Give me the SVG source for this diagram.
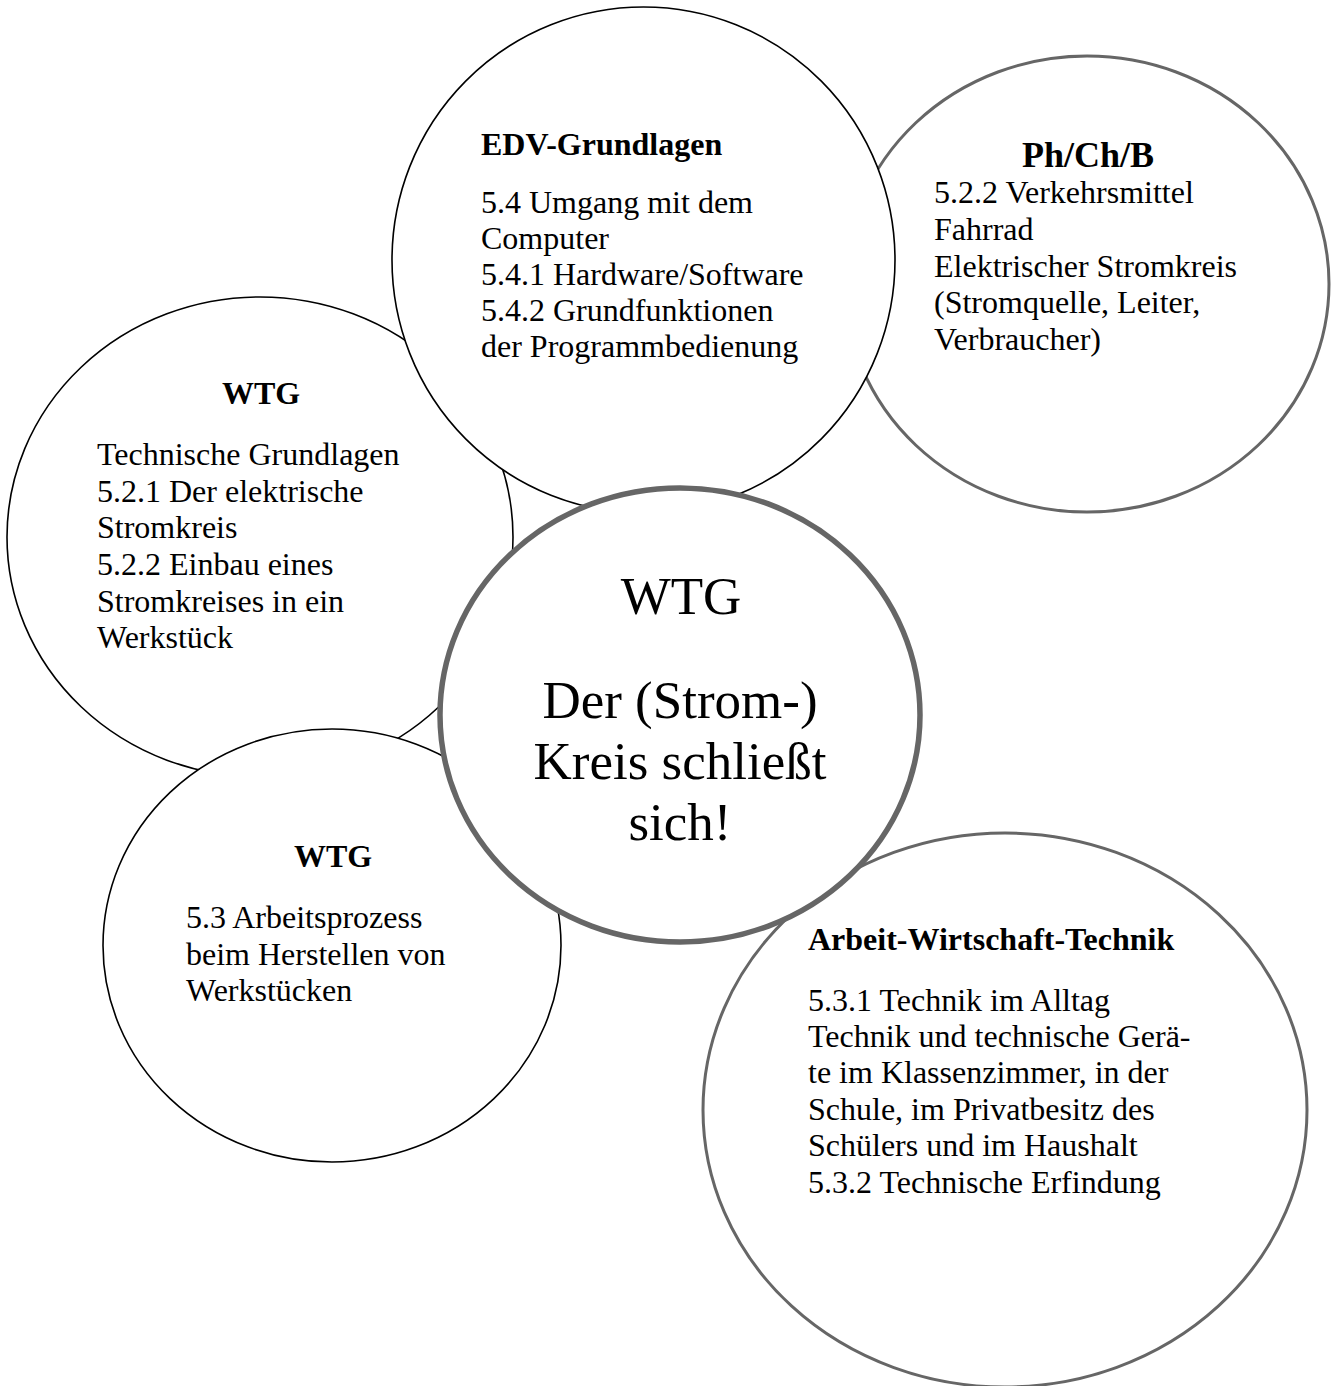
<svg xmlns="http://www.w3.org/2000/svg" width="1336" height="1386" viewBox="0 0 1336 1386">
<style>
.thin{fill:#fff;stroke:#000;stroke-width:1.6}
.gray{fill:#fff;stroke:#666;stroke-width:3}
.center{fill:#fff;stroke:#666;stroke-width:5.5}
text{font-family:"Liberation Serif","Times New Roman",serif;fill:#000}
.h{font-size:32px;font-weight:bold}
.b{font-size:32px}
.big{font-size:53px;text-anchor:middle}
.mid{text-anchor:middle}
</style>
<rect width="1336" height="1386" fill="#fff"/>
<g id="phchb">
<ellipse class="gray" cx="1087" cy="284" rx="242" ry="228"/>
<text class="h mid" x="1088" y="167" style="font-size:36px">Ph/Ch/B</text>
<text class="b" x="934" y="203">5.2.2 Verkehrsmittel</text>
<text class="b" x="934" y="240">Fahrrad</text>
<text class="b" x="934" y="277">Elektrischer Stromkreis</text>
<text class="b" x="934" y="313">(Stromquelle, Leiter,</text>
<text class="b" x="934" y="350">Verbraucher)</text>
</g>
<g id="wtg-left">
<ellipse class="thin" cx="260" cy="537" rx="253" ry="240"/>
<text class="h mid" x="261" y="404">WTG</text>
<text class="b" x="97" y="465">Technische Grundlagen</text>
<text class="b" x="97" y="502">5.2.1 Der elektrische</text>
<text class="b" x="97" y="538">Stromkreis</text>
<text class="b" x="97" y="575">5.2.2 Einbau eines</text>
<text class="b" x="97" y="612">Stromkreises in ein</text>
<text class="b" x="97" y="648">Werkstück</text>
</g>
<g id="edv">
<ellipse class="thin" cx="643.5" cy="260" rx="251.5" ry="253"/>
<text class="h" x="481" y="155">EDV-Grundlagen</text>
<text class="b" x="481" y="213">5.4 Umgang mit dem</text>
<text class="b" x="481" y="249">Computer</text>
<text class="b" x="481" y="285">5.4.1 Hardware/Software</text>
<text class="b" x="481" y="321">5.4.2 Grundfunktionen</text>
<text class="b" x="481" y="357">der Programmbedienung</text>
</g>
<g id="wtg-bottom">
<ellipse class="thin" cx="332" cy="945.5" rx="229" ry="216.5"/>
<text class="h mid" x="333" y="867">WTG</text>
<text class="b" x="186" y="928">5.3 Arbeitsprozess</text>
<text class="b" x="186" y="965">beim Herstellen von</text>
<text class="b" x="186" y="1001">Werkstücken</text>
</g>
<g id="awt">
<ellipse class="gray" cx="1005" cy="1110" rx="302" ry="277"/>
<text class="h" x="808" y="950">Arbeit-Wirtschaft-Technik</text>
<text class="b" x="808" y="1011">5.3.1 Technik im Alltag</text>
<text class="b" x="808" y="1047">Technik und technische Gerä-</text>
<text class="b" x="808" y="1083">te im Klassenzimmer, in der</text>
<text class="b" x="808" y="1120">Schule, im Privatbesitz des</text>
<text class="b" x="808" y="1156">Schülers und im Haushalt</text>
<text class="b" x="808" y="1193">5.3.2 Technische Erfindung</text>
</g>
<g id="center-node">
<ellipse class="center" cx="680" cy="715" rx="240" ry="227"/>
<text class="big" x="681" y="614">WTG</text>
<text class="big" x="680" y="718">Der (Strom-)</text>
<text class="big" x="680" y="779">Kreis schließt</text>
<text class="big" x="680" y="840">sich!</text>
</g>
<g id="connectors"/>
</svg>
